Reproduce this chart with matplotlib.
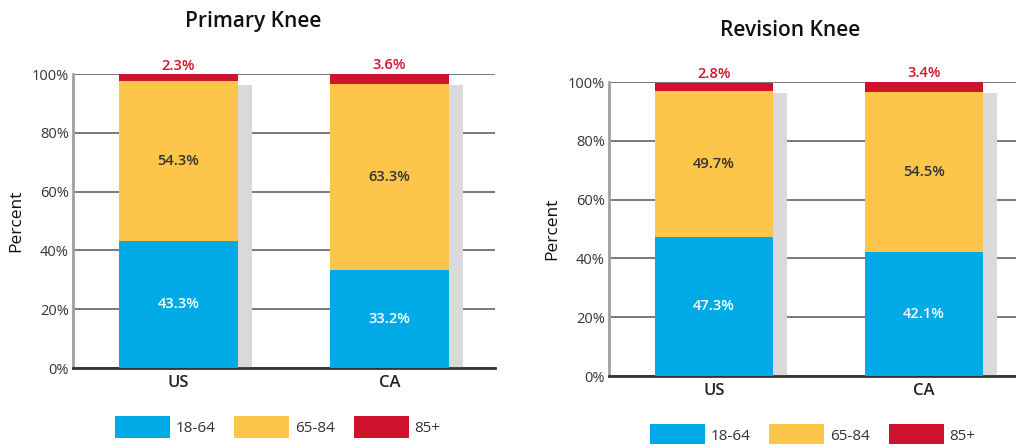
import matplotlib
matplotlib.use("Agg")
import matplotlib.pyplot as plt
from matplotlib.patches import Patch

plt.rcParams['font.family'] = ['Open Sans', 'DejaVu Sans']

categories = ["US", "CA"]
age_groups = ["18-64", "65-84", "85+"]
primary = {"18-64": [43.3, 33.2], "65-84": [54.3, 63.3], "85+": [2.3, 3.6]}
revision = {"18-64": [47.3, 42.1], "65-84": [49.7, 54.5], "85+": [2.8, 3.4]}
yticks = [0, 20, 40, 60, 80, 100]
ytick_labels = ["0%", "20%", "40%", "60%", "80%", "100%"]

colors = {"18-64": "#00AAE6", "65-84": "#FDC54A", "85+": "#D0132D"}
shadow_color = "#D9D9D9"
text_dark = "#333333"

W, H = 1016, 444
fig = plt.figure(figsize=(W / 100, H / 100), dpi=100)


def panel(rect, data, title, title_y, legend_xy):
    ax = fig.add_axes(rect)
    x = list(range(len(categories)))
    width = 0.562
    # shadow bars
    ax.bar([xi + 0.067 for xi in x], [96.3] * len(x), width=width, color=shadow_color, zorder=1)
    bottom = [0.0] * len(x)
    for g in age_groups:
        vals = data[g]
        ax.bar(x, vals, width=width, bottom=bottom, color=colors[g], zorder=3, clip_on=False)
        for i, v in enumerate(vals):
            if g == "18-64":
                ax.text(x[i], bottom[i] + v / 2, f"{v:.1f}%", ha="center", va="center",
                        color="white", fontsize=10.5, fontweight="semibold", zorder=4)
            elif g == "65-84":
                ax.text(x[i], bottom[i] + v / 2, f"{v:.1f}%", ha="center", va="center",
                        color=text_dark, fontsize=10.5, fontweight="semibold", zorder=4)
            else:
                ax.text(x[i], bottom[i] + v + 0.6, f"{v:.1f}%", ha="center", va="bottom",
                        color=colors[g], fontsize=10.5, fontweight="semibold", zorder=4)
        bottom = [b + v for b, v in zip(bottom, vals)]
    ax.set_xlim(-0.5, 1.5)
    ax.set_ylim(0, 100)
    ax.set_yticks(yticks)
    ax.set_yticklabels(ytick_labels)
    ax.set_xticks(x)
    ax.set_xticklabels(categories, fontweight="semibold")
    ax.tick_params(axis="both", length=0, colors=text_dark)
    ax.tick_params(axis="x", pad=5, labelsize=12, labelcolor="#222222")
    ax.tick_params(axis="y", pad=3, labelsize=10.5)
    ax.yaxis.grid(True, color="#555555", linewidth=1.1, zorder=0)
    ax.set_axisbelow(True)
    for s in ["top", "right"]:
        ax.spines[s].set_visible(False)
    ax.spines["left"].set_color("#A0A0A0")
    ax.spines["left"].set_linewidth(2)
    ax.spines["bottom"].set_color("#333333")
    ax.spines["bottom"].set_linewidth(2)
    ax.set_ylabel("Percent", fontsize=12.5, color="#111111", labelpad=5)
    fig.text(title[1], 1 - title_y / H, title[0], ha="center", va="center",
             fontsize=15, fontweight="semibold", color="#111111")
    handles = [Patch(facecolor=colors[g], edgecolor="none") for g in age_groups]
    fig.legend(handles, age_groups, loc="upper left",
               bbox_to_anchor=(legend_xy[0] / W, 1 - legend_xy[1] / H),
               ncol=3, frameon=False, fontsize=11, handlelength=3.6, handleheight=1.85,
               handletextpad=0.4, columnspacing=1.2, borderpad=0, borderaxespad=0,
               labelcolor=text_dark)
    return ax


panel([73 / W, (H - 368) / H, 422 / W, 294 / H], primary, ("Primary Knee", 253 / W), 21, (115, 416))
panel([609 / W, (H - 376) / H, 420 / W, 294 / H], revision, ("Revision Knee", 790 / W), 31, (650, 424))

fig.savefig("out.png", dpi=100)
